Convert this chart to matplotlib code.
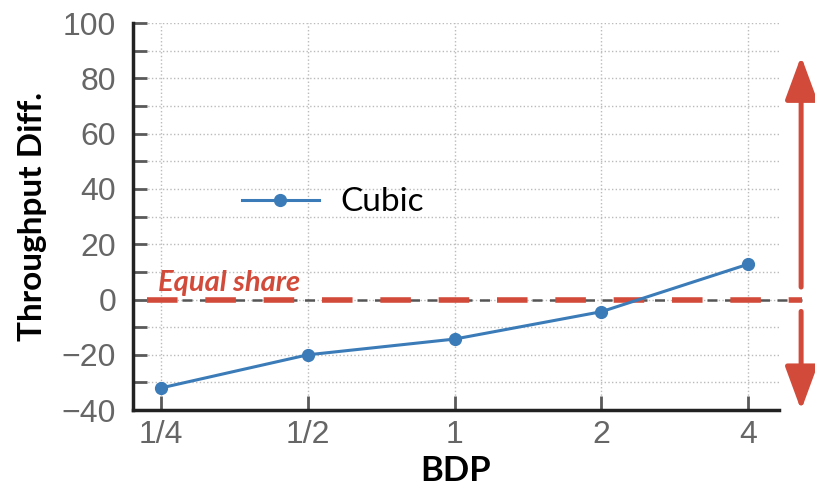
import matplotlib.pyplot as plt
from matplotlib.patches import FancyArrowPatch
from matplotlib.lines import Line2D

# data
bdp_labels = ["1/4", "1/2", "1", "2", "4"]
cubic_diff = [-32, -20, -14.3, -4.4, 12.8]
equal_share = 0

blue = '#3a7bb8'
red = '#d24b3a'
gray = '#5a5a5a'

plt.rcParams['font.family'] = ['Liberation Sans', 'DejaVu Sans']
label_font = ['Lato', 'DejaVu Sans']

fig = plt.figure(figsize=(8.15, 4.9), dpi=100)
ax = fig.add_axes([0.163, 0.163, 0.793, 0.79])

xs = list(range(len(bdp_labels)))
ax.plot(xs, cubic_diff, color=blue, lw=2.2, marker='o', ms=8.5, label='Cubic', zorder=3)

ax.set_xlim(-0.19, 4.21)
ax.set_ylim(-40, 100)
ax.set_xticks(xs)
ax.set_xticklabels(bdp_labels)
ax.set_yticks(range(-40, 101, 20))
ax.set_yticks(range(-30, 100, 20), minor=True)
ax.set_yticklabels(['\u221240', '\u221220', '0', '20', '40', '60', '80', '100'])

for s in ['top', 'right']:
    ax.spines[s].set_visible(False)
for s in ['left', 'bottom']:
    ax.spines[s].set_linewidth(2.5)
    ax.spines[s].set_color('#222222')

ax.tick_params(axis='both', which='both', direction='in', length=10, width=2,
               color=gray, labelcolor='#666666', labelsize=23)
ax.tick_params(axis='y', pad=12)
ax.tick_params(axis='x', pad=7)
ax.grid(True, which='both', linestyle=':', color='#bbbbbb', lw=1)
ax.set_axisbelow(True)

ax.set_ylabel('Throughput Diff.', fontsize=24, fontweight='bold', family=label_font, labelpad=11)
ax.set_xlabel('BDP', fontsize=25, fontweight='bold', family=label_font, labelpad=4)

# equal share line
trans = ax.get_yaxis_transform()
ax.add_line(Line2D([0.022, 1.036], [equal_share, equal_share], transform=trans,
                   color='#555555', lw=1.8, ls=(0, (4, 3)), clip_on=False, zorder=2))
ax.add_line(Line2D([0.022, 1.036], [equal_share, equal_share], transform=trans,
                   color=red, lw=4, ls=(0, (5.5, 5)), clip_on=False, zorder=2))
ax.text(0.039, equal_share + 3, 'Equal share', transform=trans, color=red,
        fontsize=21, fontweight='bold', style='italic', family=label_font)

# arrows
for y0, y1 in [(3.5, 89), (-3.3, -41)]:
    arr = FancyArrowPatch((1.034, y0), (1.034, y1), transform=trans,
                          arrowstyle='-|>,head_length=1.9,head_width=0.7',
                          mutation_scale=14, color=red, lw=3.6, clip_on=False)
    ax.add_patch(arr)

ax.legend(loc='center left', bbox_to_anchor=(0.169, 0.537), frameon=False,
          handlelength=2.3, handletextpad=0.65, borderpad=0, borderaxespad=0,
          prop={'family': label_font, 'size': 24})

fig.savefig('out.png', dpi=100)
